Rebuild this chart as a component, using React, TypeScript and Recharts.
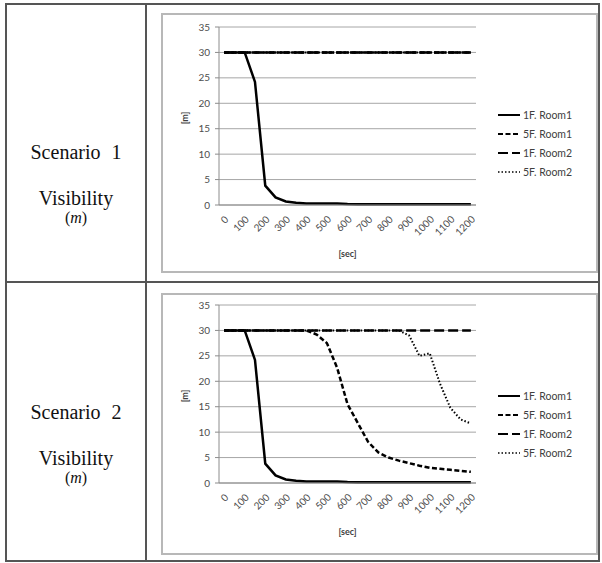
import React from "react";
import { LineChart, Line, XAxis, YAxis, CartesianGrid, Legend, Label } from "recharts";

// sample times in seconds (one point every 50 s)
const times = [
  0, 50, 100, 150, 200, 250, 300, 350, 400, 450, 500, 550, 600, 650, 700, 750, 800, 850, 900, 950,
  1000, 1050, 1100, 1150, 1200,
];
// Excel-style category boundaries, used only for the small tick marks
const boundaryTicks = [
  -25, 25, 75, 125, 175, 225, 275, 325, 375, 425, 475, 525, 575, 625, 675, 725, 775, 825, 875, 925,
  975, 1025, 1075, 1125, 1175, 1225,
];
const timeLabels = [0, 100, 200, 300, 400, 500, 600, 700, 800, 900, 1000, 1100, 1200];
const visTicks = [0, 5, 10, 15, 20, 25, 30, 35];
const seriesNames = ["1F. Room1", "5F. Room1", "1F. Room2", "5F. Room2"];

// Scenario 1
const sc1Room1F1 = [30, 30, 30, 24.2, 3.8, 1.5, 0.7, 0.45, 0.3, 0.3, 0.3, 0.3, 0.2, 0.15, 0.15, 0.15, 0.15, 0.15, 0.15, 0.15, 0.15, 0.15, 0.15, 0.15, 0.15];
const sc1Room1F5 = [30, 30, 30, 30, 30, 30, 30, 30, 30, 30, 30, 30, 30, 30, 30, 30, 30, 30, 30, 30, 30, 30, 30, 30, 30];
const sc1Room2F1 = [30, 30, 30, 30, 30, 30, 30, 30, 30, 30, 30, 30, 30, 30, 30, 30, 30, 30, 30, 30, 30, 30, 30, 30, 30];
const sc1Room2F5 = [30, 30, 30, 30, 30, 30, 30, 30, 30, 30, 30, 30, 30, 30, 30, 30, 30, 30, 30, 30, 30, 30, 30, 30, 30];

// Scenario 2
const sc2Room1F1 = [30, 30, 30, 24.2, 3.8, 1.5, 0.7, 0.45, 0.3, 0.3, 0.3, 0.3, 0.2, 0.15, 0.15, 0.15, 0.15, 0.15, 0.15, 0.15, 0.15, 0.15, 0.15, 0.15, 0.15];
const sc2Room1F5 = [30, 30, 30, 30, 30, 30, 30, 30, 30, 29.2, 27.5, 22.6, 15.5, 11.8, 8.1, 6.0, 5.0, 4.4, 3.9, 3.4, 3.0, 2.8, 2.6, 2.4, 2.2];
const sc2Room2F1 = [30, 30, 30, 30, 30, 30, 30, 30, 30, 30, 30, 30, 30, 30, 30, 30, 30, 30, 30, 30, 30, 30, 30, 30, 30];
const sc2Room2F5 = [30, 30, 30, 30, 30, 30, 30, 30, 30, 30, 30, 30, 30, 30, 30, 30, 30, 30, 29, 25, 25.5, 19.5, 14.8, 12.5, 11.7];

const buildRows = (series: number[][]) =>
  times.map((t, i) => {
    const row: Record<string, number> = { t };
    seriesNames.forEach((name, k) => {
      row[name] = series[k][i];
    });
    return row;
  });

const scenario1 = buildRows([sc1Room1F1, sc1Room1F5, sc1Room2F1, sc1Room2F5]);
const scenario2 = buildRows([sc2Room1F1, sc2Room1F5, sc2Room2F1, sc2Room2F5]);

const lineStyles = [
  { dash: undefined, width: 2.5 },
  { dash: "5 2.5", width: 2.5 },
  { dash: "10 4", width: 2.5 },
  { dash: "1.5 2", width: 2 },
];

const chartFont = "Lato, 'Open Sans', sans-serif";
const axisGray = "#8c8c8c";

const LegendBox = (props: any) => {
  const items = props.payload || [];
  return (
    <div style={{ width: 99, paddingLeft: 22, boxSizing: "border-box", fontFamily: chartFont }}>
      {items.map((entry: any) => (
        <div key={entry.value} style={{ height: 19, display: "flex", alignItems: "center" }}>
          <svg width={22} height={6}>
            <line
              x1={0}
              x2={22}
              y1={3}
              y2={3}
              stroke="#000"
              strokeWidth={entry.payload?.strokeDasharray === "1.5 2" ? 1.5 : 2}
              strokeDasharray={entry.payload?.strokeDasharray}
            />
          </svg>
          <span style={{ marginLeft: 3, fontSize: 10.5, color: "#404040", whiteSpace: "nowrap" }}>
            {entry.value}
          </span>
        </div>
      ))}
    </div>
  );
};

const YTitle = (props: any) => {
  const vb = props.viewBox;
  const cx = vb.x + 5;
  const cy = vb.y + vb.height / 2 + 2;
  return (
    <text
      x={cx}
      y={cy}
      transform={`rotate(-90 ${cx} ${cy})`}
      textAnchor="middle"
      dominantBaseline="central"
      fontSize={9}
      fontWeight="bold"
      fill="#404040"
      fontFamily={chartFont}
    >
      [m]
    </text>
  );
};

function VisibilityChart({ data, height, top, bottom }: { data: any[]; height: number; top: number; bottom: number }) {
  return (
    <LineChart width={435} height={height} data={data} margin={{ top, right: 22, bottom, left: 17 }}>
      <CartesianGrid vertical={false} stroke="#a6a6a6" />
      <XAxis
        xAxisId="grid"
        dataKey="t"
        type="number"
        domain={[-25, 1225]}
        ticks={boundaryTicks}
        interval={0}
        height={1}
        tick={false}
        tickSize={4}
        stroke={axisGray}
      />
      <XAxis
        xAxisId="lab"
        dataKey="t"
        type="number"
        domain={[-25, 1225]}
        ticks={timeLabels}
        interval={0}
        height={1}
        axisLine={false}
        tickLine={false}
        tickSize={0}
        tickMargin={9}
        angle={-45}
        textAnchor="end"
        tick={{ fontSize: 10, fill: "#4d4d4d", fontFamily: chartFont }}
      >
        <Label
          value="[sec]"
          position="bottom"
          offset={44}
          style={{ fontSize: 9, fontWeight: 700, fill: "#404040", fontFamily: chartFont }}
        />
      </XAxis>
      <YAxis
        width={40}
        domain={[0, 35]}
        ticks={visTicks}
        interval={0}
        tickSize={4}
        tickMargin={5}
        stroke={axisGray}
        tick={{ fontSize: 10, fill: "#4d4d4d", fontFamily: chartFont }}
        label={<YTitle />}
      />
      <Legend
        layout="vertical"
        align="right"
        verticalAlign="middle"
        itemSorter={(item: any) => seriesNames.indexOf(item.value)}
        content={<LegendBox />}
      />
      {seriesNames.map((name, k) => (
        <Line
          key={name}
          xAxisId="lab"
          type="linear"
          dataKey={name}
          name={name}
          stroke="#000"
          strokeWidth={lineStyles[k].width}
          strokeDasharray={lineStyles[k].dash}
          dot={false}
          activeDot={false}
          isAnimationActive={false}
        />
      ))}
    </LineChart>
  );
}

const serif = "'Liberation Serif', 'DejaVu Serif', serif";

function RowLabel({ top, n }: { top: number; n: number }) {
  const base: React.CSSProperties = {
    position: "absolute",
    left: 7,
    width: 138,
    textAlign: "center",
    fontFamily: serif,
    color: "#111",
    whiteSpace: "nowrap",
  };
  return (
    <>
      <div style={{ ...base, top: top, fontSize: 20, lineHeight: "20px", wordSpacing: 6 }}>Scenario {n}</div>
      <div style={{ ...base, top: top + 46, fontSize: 20, lineHeight: "20px" }}>Visibility</div>
      <div style={{ ...base, top: top + 68, fontSize: 16, lineHeight: "16px" }}>
        (<i>m</i>)
      </div>
    </>
  );
}

export default function App() {
  const line = "#555";
  return (
    <div style={{ position: "absolute", left: 0, top: 0, width: 602, height: 563, background: "#fff" }}>
      {/* table frame */}
      <div
        style={{
          position: "absolute",
          left: 5,
          top: 3,
          width: 595,
          height: 559,
          border: `2px solid ${line}`,
          boxSizing: "border-box",
        }}
      />
      <div style={{ position: "absolute", left: 145, top: 3, width: 2, height: 559, background: line }} />
      <div style={{ position: "absolute", left: 5, top: 281, width: 595, height: 2, background: line }} />

      <RowLabel top={142} n={1} />
      <RowLabel top={402} n={2} />

      {/* chart frames */}
      <div
        style={{
          position: "absolute",
          left: 161,
          top: 13,
          width: 437,
          height: 260,
          border: "2px solid #b8b8b8",
          boxSizing: "border-box",
        }}
      />
      <div
        style={{
          position: "absolute",
          left: 161,
          top: 293,
          width: 437,
          height: 262,
          border: "2px solid #b8b8b8",
          boxSizing: "border-box",
        }}
      />

      <div style={{ position: "absolute", left: 162, top: 14 }}>
        <VisibilityChart data={scenario1} height={258} top={13} bottom={65} />
      </div>
      <div style={{ position: "absolute", left: 162, top: 294 }}>
        <VisibilityChart data={scenario2} height={260} top={11} bottom={69} />
      </div>
    </div>
  );
}
